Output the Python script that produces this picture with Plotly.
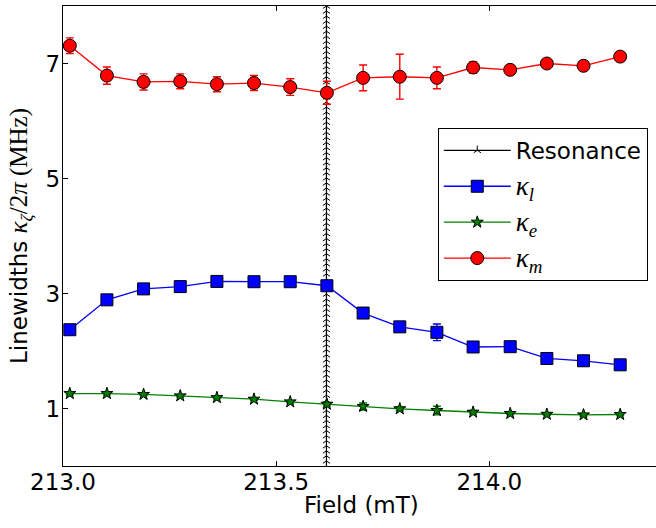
import numpy as np
import plotly.graph_objects as go

# ---- data ----
field = [213.016, 213.103, 213.189, 213.275, 213.361, 213.448, 213.533, 213.619,
         213.704, 213.790, 213.877, 213.962, 214.049, 214.135, 214.221, 214.307]

kappa_l = [2.37, 2.89, 3.08, 3.12, 3.21, 3.205, 3.205, 3.135,
           2.66, 2.42, 2.325, 2.07, 2.075, 1.87, 1.83, 1.76]
kappa_l_err = [0.04, 0.04, 0.04, 0.04, 0.04, 0.04, 0.04, 0.05,
               0.05, 0.05, 0.145, 0.06, 0.04, 0.04, 0.04, 0.04]

kappa_e = [1.26, 1.26, 1.245, 1.22, 1.19, 1.162, 1.116, 1.075,
           1.035, 0.995, 0.965, 0.936, 0.913, 0.90, 0.89, 0.896]
kappa_e_err = [0.02, 0.02, 0.02, 0.02, 0.02, 0.02, 0.02, 0.03,
               0.06, 0.03, 0.075, 0.03, 0.02, 0.02, 0.02, 0.02]

kappa_m = [7.31, 6.79, 6.68, 6.69, 6.64, 6.66, 6.59, 6.49,
           6.75, 6.77, 6.75, 6.93, 6.89, 7.00, 6.96, 7.12]
kappa_m_err = [0.135, 0.15, 0.14, 0.13, 0.13, 0.13, 0.145, 0.2,
               0.225, 0.39, 0.19, 0.1, 0.05, 0.05, 0.04, 0.03]

resonance_field = 213.618
resonance_y = np.linspace(0, 8, 92)

x_ticks = [213.0, 213.5, 214.0]
x_tick_labels = ["213.0", "213.5", "214.0"]
y_ticks = [1, 3, 5, 7]
y_tick_labels = ["1", "3", "5", "7"]

SANS = "DejaVu Sans"
SERIF = "Liberation Serif"
FS = 23

fig = go.Figure()

fig.add_trace(go.Scatter(
    x=[resonance_field] * len(resonance_y), y=resonance_y,
    mode="lines+markers", name="Resonance",
    line=dict(color="black", width=1.2),
    marker=dict(symbol="y-up", size=6, color="black",
                line=dict(color="black", width=1)),
    legendgroup="a",
))

def err(vals, color):
    return dict(type="data", array=vals, visible=True, color=color,
                thickness=1.4, width=4)

def kname(sub):
    return (f"<span style='font-family:{SERIF};font-size:27px'><i>κ</i>"
            f"<sub><i>{sub}</i></sub></span>")

fig.add_trace(go.Scatter(
    x=field, y=kappa_l, error_y=err(kappa_l_err, "#0000ff"),
    mode="lines+markers", name=kname("l"),
    line=dict(color="#0000ff", width=1.3),
    marker=dict(symbol="square", size=12, color="#0000ff",
                line=dict(color="black", width=1)),
    legendgroup="b",
))

fig.add_trace(go.Scatter(
    x=field, y=kappa_e, error_y=err(kappa_e_err, "#008000"),
    mode="lines+markers", name=kname("e"),
    line=dict(color="#008000", width=1.3),
    marker=dict(symbol="star", size=9, color="#008000",
                line=dict(color="black", width=1)),
    legendgroup="c",
))

fig.add_trace(go.Scatter(
    x=field, y=kappa_m, error_y=err(kappa_m_err, "#ff0000"),
    mode="lines+markers", name=kname("m"),
    line=dict(color="#ff0000", width=1.3),
    marker=dict(symbol="circle", size=13, color="#ff0000",
                line=dict(color="black", width=1)),
    legendgroup="d",
))

fig.update_layout(
    width=656, height=528,
    margin=dict(l=63, r=0, t=6, b=62),
    plot_bgcolor="white", paper_bgcolor="white",
    font=dict(family=SANS, size=FS, color="black"),
    showlegend=True,
    legend=dict(
        x=0.632, y=0.735, xanchor="left", yanchor="top",
        bgcolor="white", bordercolor="black", borderwidth=1,
        font=dict(family=SANS, size=FS, color="black"),
        tracegroupgap=3, itemwidth=67,
    ),
    xaxis=dict(
        range=[213.0, 214.391], tickvals=x_ticks, ticktext=x_tick_labels,
        ticks="inside", ticklen=5, tickwidth=1, tickcolor="black",
        showline=True, linecolor="black", linewidth=1.3, mirror="ticks",
        showgrid=False, zeroline=False, ticklabelstandoff=-5,
        tickfont=dict(family=SANS, size=FS, color="black"),
    ),
    yaxis=dict(
        range=[0, 8], tickvals=y_ticks, ticktext=y_tick_labels,
        ticks="inside", ticklen=5, tickwidth=1, tickcolor="black",
        showline=True, linecolor="black", linewidth=1.3, mirror=False,
        showgrid=False, zeroline=False, ticklabelstandoff=-3,
        tickfont=dict(family=SANS, size=FS, color="black"),
    ),
    annotations=[
        dict(text="Field (mT)", xref="paper", yref="paper",
             x=(361.5 - 63) / 593, y=-(505 - 466) / 460,
             xanchor="center", yanchor="middle", showarrow=False,
             font=dict(family=SANS, size=FS, color="black")),
        dict(text=("Linewidths <span style='font-family:" + SERIF +
                   ";font-size:25px'>"
                   "<i>κ</i><sub><i>ζ</i></sub>/2<i>π</i> (MHz)</span>"),
             xref="paper", yref="paper",
             x=-(63 - 20) / 593, y=0.5, textangle=-90,
             xanchor="center", yanchor="middle", showarrow=False,
             font=dict(family=SANS, size=FS, color="black")),
    ],
)

fig.write_html("out.html")
